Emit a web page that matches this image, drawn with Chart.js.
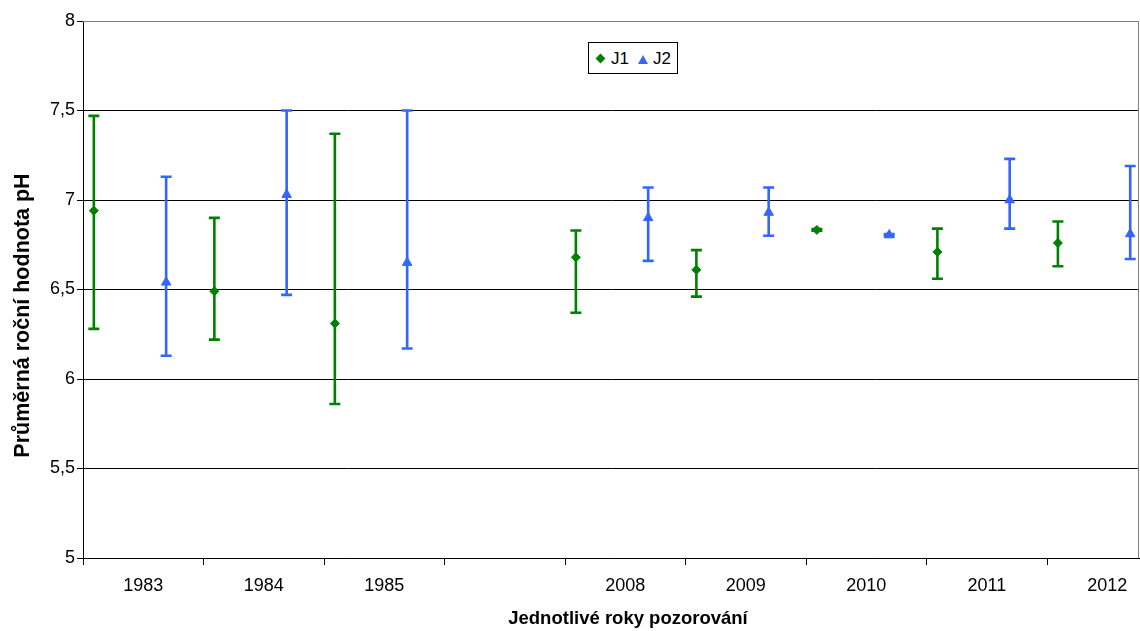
<!DOCTYPE html>
<html lang="cs">
<head>
<meta charset="utf-8">
<title>Průměrná roční hodnota pH</title>
<script src="https://cdn.jsdelivr.net/npm/chart.js@4.4.1/dist/chart.umd.min.js"></script>
<style>
    html, body { margin: 0; padding: 0; background: #fff; overflow: hidden; }
    #wrap { position: relative; width: 1140px; height: 631px; }
    #phChart { display: block; }
    #legend {
        position: absolute; left: 588px; top: 42px; width: 88px; height: 30px;
        border: 1px solid #000; background: #fff;
        font: 17px "Liberation Sans", Arial, sans-serif; color: #000;
    }
    #legend span { position: absolute; top: 0; line-height: 31px; }
    .diamond { position: absolute; left: 8px; top: 12px; width: 7px; height: 7px; background: #008000; transform: rotate(45deg); }
    .triangle { position: absolute; left: 49px; top: 12px; width: 0; height: 0;
        border-left: 5px solid transparent; border-right: 5px solid transparent; border-bottom: 9px solid #3366FF; }
</style>
</head>
<body>
<div id="wrap">
    <canvas id="phChart" width="1140" height="631"></canvas>
    <div id="legend">
        <div class="diamond"></div><span style="left:22px">J1</span>
        <div class="triangle"></div><span style="left:64px">J2</span>
    </div>
</div>
<script>
// categories (empty slot between 1985 and 2008)
const years = ['1983', '1984', '1985', '', '2008', '2009', '2010', '2011', '2012'];

// J1 - mean, min, max
const j1Mean = [6.94, 6.49, 6.31, null, 6.68, 6.61, 6.833, 6.71, 6.76];
const j1Low  = [6.28, 6.22, 5.86, null, 6.37, 6.46, 6.828, 6.56, 6.63];
const j1High = [7.47, 6.90, 7.37, null, 6.83, 6.72, 6.838, 6.84, 6.88];

// J2 - mean, min, max
const j2Mean = [6.54, 7.03, 6.65, null, 6.90, 6.93, 6.804, 7.00, 6.81];
const j2Low  = [6.13, 6.47, 6.17, null, 6.66, 6.80, 6.798, 6.84, 6.67];
const j2High = [7.13, 7.50, 7.50, null, 7.07, 7.07, 6.810, 7.23, 7.19];

const xTitle = 'Jednotlivé roky pozorování';
const yTitle = 'Průměrná roční hodnota pH';

const GREEN = '#008000';
const BLUE = '#3366FF';
const FONT = '"Liberation Sans", Arial, sans-serif';

// position of each series inside its year slot
function toPoints(mean, low, high, shift) {
    const pts = [];
    mean.forEach((m, i) => {
        if (m === null) return;
        pts.push({ x: i + shift, y: m, low: low[i], high: high[i] });
    });
    return pts;
}

// min/max whiskers, drawn under the markers
const errorBars = {
    id: 'errorBars',
    beforeDatasetsDraw(chart) {
        const { ctx, scales: { y } } = chart;
        chart.data.datasets.forEach((ds, i) => {
            const meta = chart.getDatasetMeta(i);
            ctx.save();
            ctx.strokeStyle = ds.borderColor;
            ctx.lineWidth = 2.6;
            meta.data.forEach((pt, j) => {
                const raw = ds.data[j];
                const yLo = y.getPixelForValue(raw.low);
                const yHi = y.getPixelForValue(raw.high);
                ctx.beginPath();
                ctx.moveTo(pt.x, yLo); ctx.lineTo(pt.x, yHi);
                ctx.moveTo(pt.x - 5.5, yLo); ctx.lineTo(pt.x + 5.5, yLo);
                ctx.moveTo(pt.x - 5.5, yHi); ctx.lineTo(pt.x + 5.5, yHi);
                ctx.stroke();
            });
            ctx.restore();
        });
    }
};

// grey frame on top/right + axis titles
const frameAndTitles = {
    id: 'frameAndTitles',
    afterDraw(chart) {
        const { ctx, chartArea: a } = chart;
        ctx.save();
        ctx.strokeStyle = '#808080';
        ctx.lineWidth = 1;
        ctx.beginPath();
        ctx.moveTo(a.left, a.top + 0.5);
        ctx.lineTo(a.right - 0.5, a.top + 0.5);
        ctx.lineTo(a.right - 0.5, a.bottom);
        ctx.stroke();

        ctx.fillStyle = '#000';
        ctx.textAlign = 'center';
        ctx.textBaseline = 'middle';
        ctx.font = 'bold 18.5px ' + FONT;
        ctx.fillText(xTitle, (a.left + a.right) / 2 + 17, 619);
        ctx.translate(23, (a.top + a.bottom) / 2 + 26);
        ctx.rotate(-Math.PI / 2);
        ctx.font = 'bold 21.5px ' + FONT;
        ctx.fillText(yTitle, 0, 0);
        ctx.restore();
    }
};

const ctx = document.getElementById('phChart').getContext('2d');
new Chart(ctx, {
    type: 'scatter',
    data: {
        datasets: [
            {
                label: 'J1',
                data: toPoints(j1Mean, j1Low, j1High, 0.09),
                borderColor: GREEN,
                backgroundColor: GREEN,
                pointStyle: 'rectRot',
                pointRadius: 4.5,
                borderWidth: 1
            },
            {
                label: 'J2',
                data: toPoints(j2Mean, j2Low, j2High, 0.69),
                borderColor: BLUE,
                backgroundColor: BLUE,
                pointStyle: 'triangle',
                pointRadius: 5.5,
                borderWidth: 1
            }
        ]
    },
    options: {
        responsive: false,
        animation: false,
        layout: { autoPadding: false, padding: { top: 21, right: 1, bottom: 0, left: 0 } },
        plugins: {
            legend: { display: false },
            tooltip: { enabled: false }
        },
        scales: {
            x: {
                type: 'linear',
                min: 0,
                max: 8.763,
                afterFit(scale) {
                    scale.height = 73;
                    scale.paddingLeft = 0;
                    scale.paddingRight = 0;
                },
                afterBuildTicks(scale) {
                    const t = [];
                    for (let i = 0; i < years.length; i++) {
                        t.push({ value: i });
                        if (i + 0.5 <= scale.max) t.push({ value: i + 0.5 });
                    }
                    scale.ticks = t;
                },
                ticks: {
                    autoSkip: false,
                    maxRotation: 0,
                    padding: 10,
                    color: '#000',
                    font: { family: FONT, size: 18 },
                    callback: v => (v % 1 === 0.5 ? years[Math.floor(v)] : '')
                },
                grid: {
                    drawOnChartArea: false,
                    tickLength: 7,
                    tickColor: c => (c.tick && Number.isInteger(c.tick.value) ? '#000' : 'rgba(0,0,0,0)')
                },
                border: { color: '#000', width: 1 }
            },
            y: {
                min: 5,
                max: 8,
                afterFit(scale) { scale.width = 83; },
                ticks: {
                    stepSize: 0.5,
                    padding: 2,
                    color: '#000',
                    font: { family: FONT, size: 18 },
                    callback: v => String(v).replace('.', ',')
                },
                grid: {
                    color: c => (c.tick && c.tick.value === 8 ? '#808080' : '#000'),
                    tickColor: '#000',
                    tickLength: 6
                },
                border: { color: '#000', width: 1 }
            }
        }
    },
    plugins: [errorBars, frameAndTitles]
});
</script>
</body>
</html>
